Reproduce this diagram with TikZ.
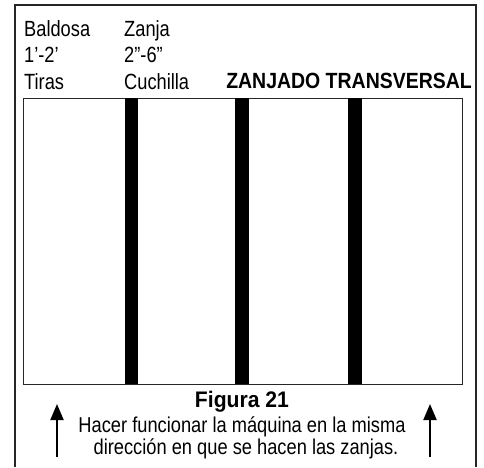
\documentclass[tikz,border=0pt]{standalone}
\usepackage{fontspec}
\setmainfont{Liberation Sans}
\newfontfamily\nar[FakeStretch=0.83]{Liberation Sans}
\newfontfamily\narcap[FakeStretch=0.85]{Liberation Sans}
\newfontfamily\narb[FakeStretch=0.885]{Liberation Sans}
\newfontfamily\narc[FakeStretch=0.94]{Liberation Sans}
\usetikzlibrary{arrows.meta}
\begin{document}
\begin{tikzpicture}[x=1pt,y=-1pt,
  lbl/.style={inner sep=0pt, anchor=base west, font=\nar\fontsize{22}{26}\selectfont},
  ctr/.style={inner sep=0pt, anchor=base, font=\narcap\fontsize{21.5}{24}\selectfont},
  ttl/.style={inner sep=0pt, font=\narb\bfseries\fontsize{22}{26}\selectfont},
  figl/.style={inner sep=0pt, font=\narc\bfseries\fontsize{22.5}{26}\selectfont},
  frame/.style={line width=1.4pt, draw=black!85},
  trench/.style={fill=black, draw=none},
  arr/.style={line width=2pt, -{Triangle[length=16pt,width=13pt]}}]
\useasboundingbox (0,0) rectangle (484,467);
% outer frame (open at bottom)
\coordinate (fbl) at (15,467);
\coordinate (ftl) at (15,5);
\coordinate (ftr) at (476,5);
\coordinate (fbr) at (476,467);
\draw[frame] (fbl) -- (ftl) -- (ftr) -- (fbr);
% field
\node[draw=black!85, line width=1.3pt, inner sep=0pt, minimum width=439pt, minimum height=286pt, anchor=north west] (field) at (23,98) {};
% trenches
\fill[trench] (125,98) rectangle (138,384);
\fill[trench] (235,98) rectangle (249,384);
\fill[trench] (348,98) rectangle (362,384);
% labels
\node[lbl] (baldosa) at (24,36) {Baldosa};
\node[lbl] (dim1) at (24,62) {1’-2’};
\node[lbl] (tiras) at (24,89) {Tiras};
\node[lbl] (zanja) at (124,36) {Zanja};
\node[lbl] (dim2) at (124,62) {2”-6”};
\node[lbl] (cuchilla) at (124,89) {Cuchilla};
\node[ttl, anchor=base east] (title) at (472,88) {ZANJADO TRANSVERSAL};
% caption
\node[figl, anchor=base] (fig) at (242,407) {Figura 21};
\node[ctr] (cap1) at (242,432) {Hacer funcionar la máquina en la misma};
\node[ctr] (cap2) at (246,454) {dirección en que se hacen las zanjas.};
% arrows
\coordinate (la1) at (57,457);
\coordinate (la2) at (57,404);
\coordinate (ra1) at (430,457);
\coordinate (ra2) at (430,404);
\draw[arr] (la1) -- (la2);
\draw[arr] (ra1) -- (ra2);
\end{tikzpicture}
\end{document}
